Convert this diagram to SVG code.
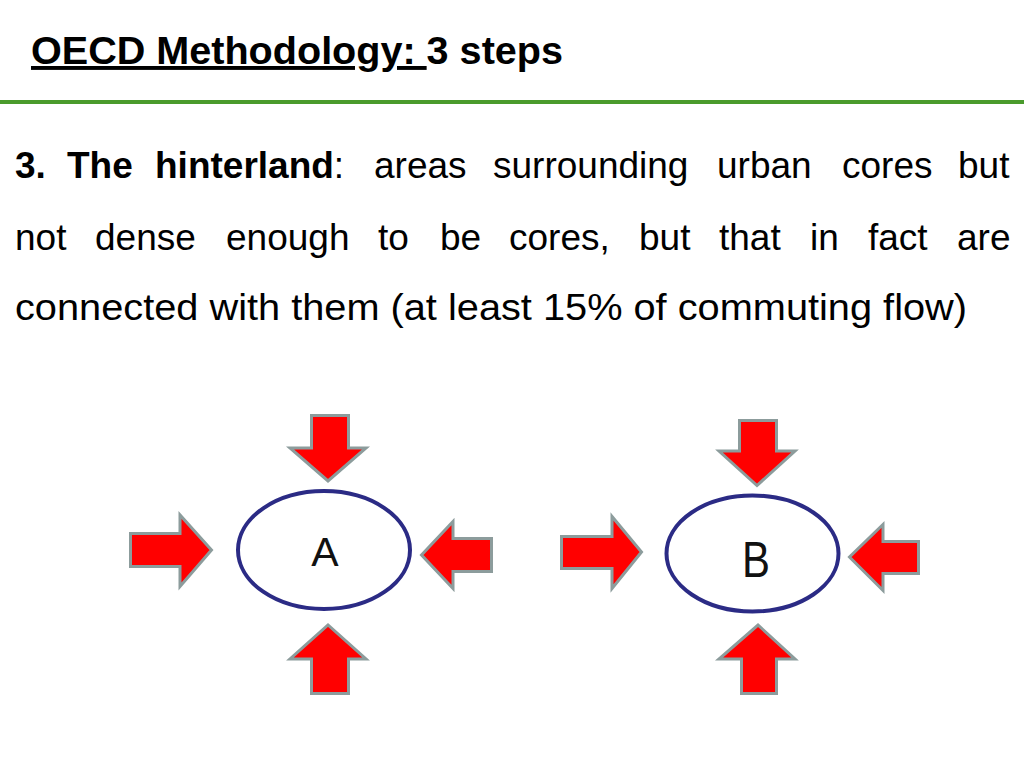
<svg xmlns="http://www.w3.org/2000/svg" width="1024" height="768" viewBox="0 0 1024 768">
  <style>
    .title { font-family: "Liberation Sans", Arial, sans-serif; font-weight: bold; font-size: 39px; fill: #000; }
    .body { font-family: "Liberation Sans", Arial, sans-serif; font-size: 37px; fill: #000; }
    .b { font-weight: bold; }
    .core { fill: #fff; stroke: #2b2b85; stroke-width: 4; }
    .flow { fill: #ff0000; stroke: #8c9c9c; stroke-width: 3; stroke-linejoin: miter; }
    .lbl { font-family: "Liberation Sans", Arial, sans-serif; fill: #111; }
  </style>
  <rect x="0" y="0" width="1024" height="768" fill="#fff"/>

  <g id="header">
    <text class="title" x="31" y="64" textLength="532" lengthAdjust="spacingAndGlyphs" xml:space="preserve"><tspan text-decoration="underline">OECD Methodology: </tspan>3 steps</text>
    <line x1="0" y1="102" x2="1024" y2="102" stroke="#4a9b2c" stroke-width="4"/>
  </g>

  <g id="paragraph" class="body">
    <text y="178">
      <tspan class="b" x="15">3.</tspan>
      <tspan class="b" x="67">The</tspan>
      <tspan class="b" x="155">hinterland</tspan><tspan>:</tspan>
      <tspan x="374">areas</tspan>
      <tspan x="493">surrounding</tspan>
      <tspan x="717">urban</tspan>
      <tspan x="842">cores</tspan>
      <tspan x="958">but</tspan>
    </text>
    <text y="250">
      <tspan x="15">not</tspan>
      <tspan x="95">dense</tspan>
      <tspan x="226">enough</tspan>
      <tspan x="378">to</tspan>
      <tspan x="440">be</tspan>
      <tspan x="509">cores,</tspan>
      <tspan x="639">but</tspan>
      <tspan x="719">that</tspan>
      <tspan x="810">in</tspan>
      <tspan x="868">fact</tspan>
      <tspan x="957">are</tspan>
    </text>
    <text x="15" y="320" textLength="952" lengthAdjust="spacingAndGlyphs">connected with them (at least 15% of commuting flow)</text>
  </g>

  <g id="coreA">
    <ellipse class="core" cx="324" cy="550" rx="86" ry="59"/>
    <text class="lbl" x="325" y="566" font-size="41" text-anchor="middle">A</text>
  </g>

  <g id="coreB">
    <ellipse class="core" cx="752.5" cy="553.5" rx="86" ry="58"/>
    <text class="lbl" x="742" y="577" font-size="50" textLength="28" lengthAdjust="spacingAndGlyphs">B</text>
  </g>

  <g id="connectors">
    <!-- A -->
    <polygon class="flow" points="311.5,415.5 348.5,415.5 348.5,448 366,448 328,481 290,448 311.5,448"/>
    <polygon class="flow" points="311.5,693.5 348.5,693.5 348.5,659 366,659 328,625 290,659 311.5,659"/>
    <polygon class="flow" points="130.5,533.5 180,533.5 180,515 211.5,550 180,586.5 180,566.5 130.5,566.5"/>
    <polygon class="flow" points="491.5,538.5 453,538.5 453,521.5 421.5,555 453,588.5 453,571.5 491.5,571.5"/>
    <!-- B -->
    <polygon class="flow" points="739.5,420.5 776.5,420.5 776.5,451 795,451 757,485.5 719,451 739.5,451"/>
    <polygon class="flow" points="741.5,693.5 776.5,693.5 776.5,659 795,659 758,625 719,659 741.5,659"/>
    <polygon class="flow" points="561.5,536.5 612,536.5 612,516.5 641.5,552 612,588.5 612,568.5 561.5,568.5"/>
    <polygon class="flow" points="918.5,541.5 883,541.5 883,524.5 849.5,557 883,590.5 883,573.5 918.5,573.5"/>
  </g>
</svg>
